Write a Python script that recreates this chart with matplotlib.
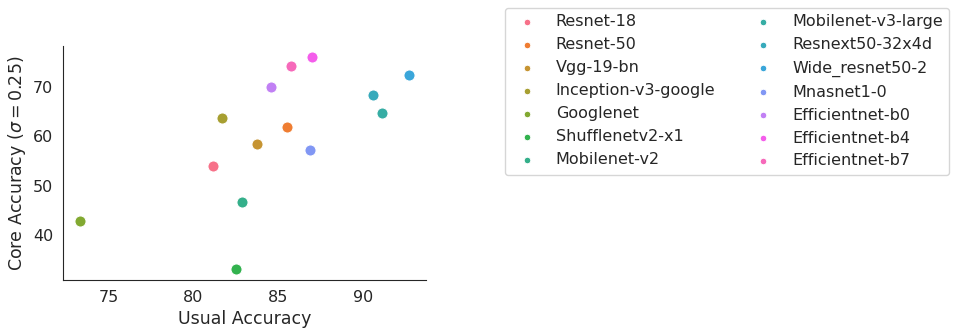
import matplotlib
matplotlib.use("Agg")
import matplotlib.pyplot as plt
import seaborn as sns

models = [
    "Resnet-18", "Resnet-50", "Vgg-19-bn", "Inception-v3-google", "Googlenet",
    "Shufflenetv2-x1", "Mobilenet-v2", "Mobilenet-v3-large", "Resnext50-32x4d",
    "Wide_resnet50-2", "Mnasnet1-0", "Efficientnet-b0", "Efficientnet-b4",
    "Efficientnet-b7",
]
usual_acc = [81.15, 85.5, 83.73, 81.68, 73.3, 82.53, 82.88, 91.14, 90.6,
             92.74, 86.86, 84.6, 87.0, 85.75]
core_acc = [54.0, 62.0, 58.46, 63.8, 42.9, 33.0, 46.7, 64.75, 68.5,
            72.45, 57.2, 70.1, 76.2, 74.3]

sns.set_style("white")
colors = sns.color_palette("husl", len(models))

fig = plt.figure(figsize=(9.57, 3.34), dpi=100)
ax = fig.add_axes([0.066, 0.162, 0.379, 0.700])

for name, x, y, c in zip(models, usual_acc, core_acc, colors):
    ax.scatter(x, y, s=64, color=c, edgecolor="white", linewidth=0.75, label=name)

ax.set_xlabel("Usual Accuracy", fontsize=12.5, color="0.15")
ax.set_ylabel(r"Core Accuracy ($\sigma = 0.25$)", fontsize=12.5, color="0.15")
ax.tick_params(labelsize=11.5, colors="0.15")
sns.despine(ax=ax)

fig.legend(loc="upper left", bbox_to_anchor=(0.519, 1.0), ncol=2,
           fontsize=11.5, markerscale=0.6, labelcolor="0.15")

fig.savefig("out.png", dpi=100)
